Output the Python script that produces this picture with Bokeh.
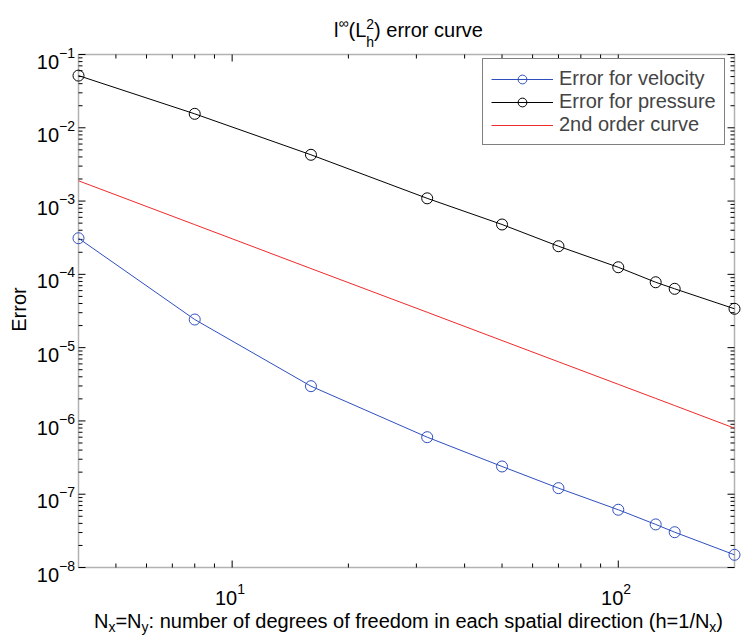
import math
from bokeh.plotting import figure
from bokeh.models import Label, Legend, LegendItem, BoxAnnotation
from bokeh.embed import file_html
from bokeh.resources import INLINE

# ---------------- data ----------------
N = [4, 8, 16, 32, 50, 70, 100, 125, 140, 200]
err_velocity = [3.11e-4, 2.42e-5, 2.98e-6, 6.0e-7, 2.39e-7, 1.21e-7, 6.14e-8, 3.87e-8, 3.03e-8, 1.49e-8]
err_pressure = [5.15e-2, 1.55e-2, 4.28e-3, 1.09e-3, 4.79e-4, 2.42e-4, 1.25e-4, 7.8e-5, 6.35e-5, 3.39e-5]
second_order = [1.89e-3, 4.77e-4, 1.2e-4, 3.04e-5, 1.25e-5, 6.41e-6, 3.16e-6, 2.03e-6, 1.62e-6, 7.96e-7]

series_labels = ["Error for velocity", "Error for pressure", "2nd order curve"]
x_lim = (4, 200)
y_lim = (1e-8, 1e-1)
x_major = [10, 100]
x_minor = [5, 6, 7, 8, 9, 20, 30, 40, 50, 60, 70, 80, 90]
x_exponents = [1, 2]
y_exponents = [-8, -7, -6, -5, -4, -3, -2, -1]

BLUE = "#2f4fbf"
BLACK = "#000000"
RED = "#f02a2a"
FONT = "Liberation Sans"

# ---------------- layout (pixels) ----------------
WIDTH, HEIGHT = 741, 635
BOX_L, BOX_R, BOX_T, BOX_B = 78, 734, 54, 567
MAJOR_LEN, MINOR_LEN = 7, 4

# data ranges of the whole canvas, so that the axes box lands at BOX_*
kx = (math.log10(x_lim[1]) - math.log10(x_lim[0])) / (BOX_R - BOX_L)
ky = (math.log10(y_lim[1]) - math.log10(y_lim[0])) / (BOX_B - BOX_T)
x_range = (10 ** (math.log10(x_lim[0]) - BOX_L * kx),
           10 ** (math.log10(x_lim[1]) + (WIDTH - BOX_R) * kx))
y_range = (10 ** (math.log10(y_lim[0]) - (HEIGHT - BOX_B) * ky),
           10 ** (math.log10(y_lim[1]) + BOX_T * ky))

# Arial / Liberation Sans advance widths (1/1000 em)
W = {' ': 278, '(': 333, ')': 333, '/': 278, ':': 278, '=': 584, 'E': 667, 'L': 556,
     'N': 722, 'a': 556, 'b': 556, 'c': 500, 'd': 556, 'e': 556, 'f': 278, 'g': 556,
     'h': 556, 'i': 222, 'l': 222, 'm': 833, 'n': 556, 'o': 556, 'p': 556, 'r': 333,
     's': 500, 't': 278, 'u': 556, 'v': 500, 'x': 500, 'y': 500, '\u221e': 713,
     '\u2212': 584}


def tw(s, size):
    return sum(W.get(c, 556) for c in s) * size / 1000.0


p = figure(width=WIDTH, height=HEIGHT, x_axis_type="log", y_axis_type="log",
           x_range=x_range, y_range=y_range,
           x_axis_location=None, y_axis_location=None,
           output_backend="svg", toolbar_location=None,
           min_border=0, background_fill_color="white",
           border_fill_color="white")
p.grid.visible = False
p.outline_line_color = None

# axes box
p.add_layout(BoxAnnotation(left=x_lim[0], right=x_lim[1], bottom=y_lim[0],
                           top=y_lim[1], fill_alpha=0, line_color="black",
                           line_width=1.5, level="underlay"))

# inward ticks on all four sides
y_major = [10.0 ** e for e in y_exponents]
y_minor = [m * 10.0 ** e for e in y_exponents[:-1] for m in range(2, 10)]
sx0, sx1, sy0, sy1 = [], [], [], []
for ticks, length in ((x_major, MAJOR_LEN), (x_minor, MINOR_LEN)):
    d = 10 ** (length * ky)
    for t in ticks:
        sx0 += [t, t]; sx1 += [t, t]
        sy0 += [y_lim[0], y_lim[1]]; sy1 += [y_lim[0] * d, y_lim[1] / d]
for ticks, length in ((y_major, MAJOR_LEN), (y_minor, MINOR_LEN)):
    d = 10 ** (length * kx)
    for t in ticks:
        sy0 += [t, t]; sy1 += [t, t]
        sx0 += [x_lim[0], x_lim[1]]; sx1 += [x_lim[0] * d, x_lim[1] / d]
p.segment(sx0, sy0, sx1, sy1, line_color="black", line_width=1)

# ---------------- glyphs ----------------
r_vl = p.line(N, err_velocity, line_color=BLUE, line_width=1)
r_vs = p.scatter(N, err_velocity, marker="circle", size=11, fill_color=None,
                 line_color=BLUE, line_width=1)
r_pl = p.line(N, err_pressure, line_color=BLACK, line_width=1)
r_ps = p.scatter(N, err_pressure, marker="circle", size=11, fill_color=None,
                 line_color=BLACK, line_width=1)
r_ref = p.line(N, second_order, line_color=RED, line_width=1)

legend = Legend(items=[LegendItem(label=series_labels[0], renderers=[r_vl, r_vs]),
                       LegendItem(label=series_labels[1], renderers=[r_pl, r_ps]),
                       LegendItem(label=series_labels[2], renderers=[r_ref])],
                location=(482, HEIGHT - 145), margin=0, padding=8, spacing=0,
                glyph_width=62, glyph_height=22, label_height=22,
                label_standoff=6, label_text_font=FONT,
                label_text_font_size="20px", border_line_color="black",
                border_line_width=1, background_fill_color="white",
                background_fill_alpha=1.0)
p.add_layout(legend)


def lab(x, y, text, dx, dy, size, align="left", angle=0):
    p.add_layout(Label(x=x, y=y, x_units="data", y_units="data",
                       x_offset=dx, y_offset=dy, text=text, text_font=FONT,
                       text_font_size=f"{size}px", text_align=align,
                       text_baseline="alphabetic", text_color="black",
                       angle=angle, angle_units="deg"))


# tick labels
for e in y_exponents:
    lab(x_lim[0], 10.0 ** e, "10", -19.5, -7, 20, "right")
    lab(x_lim[0], 10.0 ** e, "\u2212%d" % (-e), -19.5, 2, 14, "left")
for e in x_exponents:
    lab(10.0 ** e, y_lim[0], "10", 5, -30.3, 20, "right")
    lab(10.0 ** e, y_lim[0], str(e), 5, -21.3, 14, "left")


def rich(parts, y_anchor, base_dy, center_dx):
    # parts: groups of (text, size, rise); pieces in one group share x
    widths = [max(tw(t, s) for t, s, r in g) for g in parts]
    x = center_dx - sum(widths) / 2.0
    for g, w in zip(parts, widths):
        for t, s, r in g:
            lab(x_lim[0], y_anchor, t, x, base_dy + r, s, "left")
        x += w


# title  l^inf(L_h^2) error curve
rich([[("l", 20, 0)], [("\u221e", 14, 7.5)], [("(L", 20, 0)],
      [("2", 14, 6), ("h", 14, -12)], [(") error curve", 20, 0)]],
     y_lim[1], 24.5, 330)

# x axis label
rich([[("N", 20, 0)], [("x", 14, -6)], [("=N", 20, 0)], [("y", 14, -6)],
      [(": number of degrees of freedom in each spatial direction (h=1/N", 20, 0)],
      [("x", 14, -6)], [(")", 20, 0)]],
     y_lim[0], -53, 330)

# y axis label
lab(x_lim[0], 10 ** -4.5, "Error", -60, 1.5, 20, "center", angle=90)

open("out.html", "w").write(file_html(p, INLINE))
